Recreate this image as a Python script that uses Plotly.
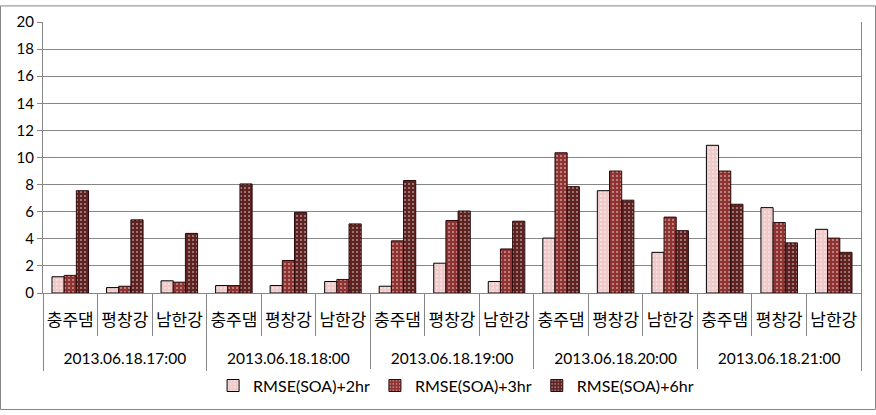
import plotly.graph_objects as go

times = ["2013.06.18.17:00", "2013.06.18.18:00", "2013.06.18.19:00", "2013.06.18.20:00", "2013.06.18.21:00"]
sites = ["충주댐", "평창강", "남한강"]

rmse_2hr = [1.2, 0.4, 0.9,  0.55, 0.55, 0.85,  0.5, 2.2, 0.85,  4.05, 7.55, 3.0,  10.9, 6.3, 4.7]
rmse_3hr = [1.3, 0.5, 0.8,  0.55, 2.4, 1.0,  3.85, 5.35, 3.25,  10.35, 9.0, 5.6,  9.0, 5.2, 4.05]
rmse_6hr = [7.55, 5.4, 4.4,  8.05, 5.95, 5.1,  8.3, 6.05, 5.3,  7.85, 6.85, 4.6,  6.55, 3.7, 3.0]

names = ["RMSE(SOA)+2hr", "RMSE(SOA)+3hr", "RMSE(SOA)+6hr"]
colors = ["#efcaca", "#8e3331", "#5e2221"]

ns = len(sites)
n = len(times) * ns
pos = list(range(n))
site_text = [s for _ in times for s in sites]
time_pos = [i * ns + (ns - 1) / 2 for i in range(len(times))]
site_bounds = [i - 0.5 for i in range(n + 1)]
time_bounds = [i * ns - 0.5 for i in range(len(times) + 1)]

fig = go.Figure()
for i, (name, vals, col) in enumerate(zip(names, [rmse_2hr, rmse_3hr, rmse_6hr], colors)):
    fig.add_trace(go.Bar(
        x=pos, y=vals, name=name,
        marker=dict(
            color=col,
            line=dict(color="#000000" if i == 0 else "#2a0a0a", width=1),
            pattern=dict(shape=".", fgcolor="white", size=4, solidity=0.2, fillmode="overlay"),
        ),
    ))
# invisible trace to activate the date axis
fig.add_trace(go.Scatter(x=[time_pos[0]], y=[0], xaxis="x2", mode="markers",
                         marker=dict(opacity=0), showlegend=False, hoverinfo="skip"))

W, H = 876, 415
ml, mr, mt, mb = 43, 15, 17, 120
pw, ph = W - ml - mr, H - mt - mb
grey = "#868686"
xr = [-0.5, n - 0.5]

fig.update_layout(
    width=W, height=H,
    margin=dict(l=ml, r=mr, t=mt, b=mb),
    paper_bgcolor="white", plot_bgcolor="white",
    barmode="group", bargap=0.33, bargroupgap=0,
    font=dict(family="Lato, Noto Sans CJK KR, sans-serif", color="#000000", size=15),
    showlegend=True,
    legend=dict(orientation="h", x=0.505, xanchor="center", y=-(390 - 295) / ph, yanchor="middle",
                font=dict(size=16), tracegroupgap=0, itemwidth=30),
    xaxis=dict(
        range=xr, tickmode="array", tickvals=pos, ticktext=site_text,
        showline=True, linecolor=grey, linewidth=1, ticks="", showgrid=False, zeroline=False,
        tickfont=dict(size=17, family="Noto Sans CJK KR, sans-serif"),
        ticklabelstandoff=12,
        minor=dict(tickmode="array", tickvals=site_bounds, ticks="outside", ticklen=42,
                   tickcolor=grey, tickwidth=1, showgrid=False),
    ),
    xaxis2=dict(
        overlaying="x", anchor="y", side="bottom", range=xr,
        tickmode="array", tickvals=time_pos, ticktext=times,
        showline=False, ticks="", showgrid=False, zeroline=False,
        tickfont=dict(size=15.5),
        ticklabelstandoff=54,
        minor=dict(tickmode="array", tickvals=time_bounds, ticks="outside", ticklen=77,
                   tickcolor=grey, tickwidth=1, showgrid=False),
    ),
    yaxis=dict(
        range=[0, 20], dtick=2, showgrid=True, gridcolor=grey, gridwidth=1,
        showline=True, mirror=True, linecolor=grey, linewidth=1,
        ticks="outside", ticklen=5, tickcolor=grey,
        tickfont=dict(size=15), zeroline=False,
    ),
    shapes=[dict(type="rect", xref="paper", yref="paper",
                 x0=(0.5 - ml) / pw, x1=(W - 0.5 - ml) / pw,
                 y0=-(mb - 0.5) / ph, y1=1 + (mt - 0.5) / ph,
                 line=dict(color=grey, width=1))],
)

fig.write_html("out.html")
